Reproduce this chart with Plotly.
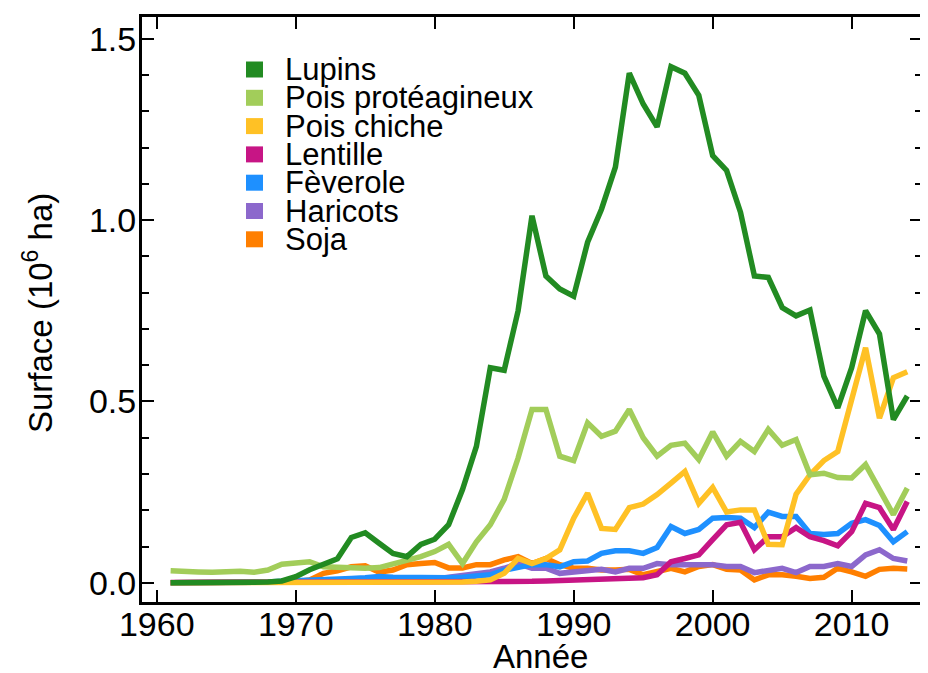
import plotly.graph_objects as go

# data --------------------------------------------------------------------------------------------------------------
years = list(range(1961, 2015))

lupins = [
    0.0, 0.0, 0.0, 0.0, 0.0, 0.0, 0.0, 0.002, 0.005, 0.017,
    0.036, 0.05, 0.066, 0.125, 0.138, 0.109, 0.081, 0.072, 0.106, 0.12,
    0.16, 0.257, 0.376, 0.593, 0.586, 0.75, 1.012, 0.846, 0.81, 0.79,
    0.939, 1.03, 1.146, 1.405, 1.32, 1.257, 1.423, 1.405, 1.344, 1.178,
    1.137, 1.022, 0.846, 0.842, 0.759, 0.736, 0.752, 0.57, 0.482, 0.593,
    0.75, 0.686, 0.45, 0.515,
]
pois_prot = [
    0.033, 0.033, 0.030, 0.029, 0.030, 0.032, 0.029, 0.035, 0.051, 0.055,
    0.058, 0.044, 0.042, 0.040, 0.040, 0.042, 0.051, 0.060, 0.072, 0.086,
    0.106, 0.053, 0.113, 0.16, 0.23, 0.344, 0.478, 0.478, 0.349, 0.337,
    0.441, 0.404, 0.418, 0.478, 0.40, 0.349, 0.379, 0.385, 0.34, 0.416,
    0.349, 0.39, 0.362, 0.423, 0.379, 0.395, 0.298, 0.302, 0.29, 0.289,
    0.326, 0.257, 0.188, 0.261,
]
pois_chiche = [
    0.0, 0.0, 0.0, 0.0, 0.0, 0.0, 0.0, 0.0, 0.0, 0.0,
    0.0, 0.0, 0.0, 0.0, 0.0, 0.0, 0.0, 0.0, 0.0, 0.0,
    0.0, 0.002, 0.004, 0.008, 0.026, 0.067, 0.053, 0.067, 0.091, 0.178,
    0.247, 0.15, 0.147, 0.207, 0.217, 0.243, 0.275, 0.307, 0.219, 0.263,
    0.195, 0.201, 0.201, 0.106, 0.105, 0.244, 0.298, 0.337, 0.362, 0.5,
    0.648, 0.454, 0.565, 0.582,
]
lentille = [
    0.001, 0.001, 0.001, 0.001, 0.001, 0.001, 0.001, 0.001, 0.001, 0.001,
    0.001, 0.001, 0.001, 0.001, 0.001, 0.001, 0.001, 0.001, 0.002, 0.002,
    0.002, 0.002, 0.002, 0.003, 0.003, 0.004, 0.004, 0.005, 0.006, 0.008,
    0.008, 0.009, 0.01, 0.01, 0.014, 0.022, 0.058, 0.067, 0.077, 0.119,
    0.16, 0.167, 0.091, 0.127, 0.127, 0.152, 0.127, 0.116, 0.102, 0.141,
    0.219, 0.207, 0.147, 0.224,
]
feverole = [
    0.0, 0.0, 0.0, 0.0, 0.0, 0.0, 0.0, 0.002, 0.004, 0.005,
    0.006, 0.008, 0.01, 0.012, 0.014, 0.017, 0.015, 0.014, 0.013, 0.013,
    0.014, 0.015, 0.018, 0.022, 0.035, 0.044, 0.05, 0.05, 0.044, 0.058,
    0.06, 0.081, 0.088, 0.088, 0.081, 0.097, 0.155, 0.136, 0.147, 0.178,
    0.18, 0.178, 0.152, 0.195, 0.183, 0.183, 0.136, 0.133, 0.136, 0.164,
    0.174, 0.158, 0.113, 0.141,
]
haricots = [
    0.0, 0.0, 0.0, 0.0, 0.0, 0.0, 0.0, 0.001, 0.002, 0.003,
    0.004, 0.005, 0.005, 0.006, 0.006, 0.007, 0.008, 0.008, 0.009, 0.01,
    0.015, 0.02, 0.022, 0.03, 0.04, 0.053, 0.04, 0.04, 0.026, 0.03,
    0.035, 0.037, 0.03, 0.04, 0.04, 0.053, 0.05, 0.05, 0.05, 0.05,
    0.045, 0.045, 0.028, 0.033, 0.04, 0.028, 0.045, 0.045, 0.053, 0.045,
    0.077, 0.091, 0.067, 0.06,
]
soja = [
    0.0, 0.0, 0.0, 0.0, 0.0, 0.0, 0.0, 0.001, 0.002, 0.003,
    0.008, 0.026, 0.033, 0.044, 0.047, 0.029, 0.035, 0.05, 0.053, 0.056,
    0.041, 0.041, 0.05, 0.05, 0.063, 0.072, 0.053, 0.067, 0.05, 0.04,
    0.04, 0.035, 0.035, 0.037, 0.022, 0.03, 0.04, 0.03, 0.045, 0.05,
    0.037, 0.035, 0.008, 0.022, 0.022, 0.018, 0.012, 0.015, 0.04, 0.03,
    0.018, 0.037, 0.04, 0.038,
]

names = ["Lupins", "Pois protéagineux", "Pois chiche", "Lentille", "Fèverole", "Haricots", "Soja"]
series = [lupins, pois_prot, pois_chiche, lentille, feverole, haricots, soja]
colors = ["#228b22", "#a2cd5a", "#ffc125", "#c71585", "#1e90ff", "#8c68cc", "#ff7f00"]

x_tickvals = [1960, 1970, 1980, 1990, 2000, 2010]
y_tickvals = [0.0, 0.5, 1.0, 1.5]

FONT = "Liberation Sans, Arial, Helvetica, sans-serif"
AXCOL = "black"

# layout constants (pixels) -----------------------------------------------------------------------------------------
BODY = 8                              # default <body> margin of the html page
W, H = 928 - BODY, 673 - BODY
MRG = dict(l=142 - BODY, r=6, t=17 - BODY, b=71)
PW, PH = W - MRG["l"] - MRG["r"], H - MRG["t"] - MRG["b"]
P_LEFT, P_BOT = 142, 602              # plot box in page pixels


def px2x(px):  # page pixel -> paper x
    return (px - P_LEFT) / PW


def py2y(py):  # page pixel -> paper y
    return (P_BOT - py) / PH


LEG_SW_X = (246, 263)        # swatch left/right
LEG_TXT_X = 283              # text left
LEG_Y0, LEG_DY = 69.5, 28.3  # first row centre, row pitch
SW = 16

fig = go.Figure()

# plotting ----------------------------------------------------------------------------------------------------------
for nm, ys, col in reversed(list(zip(names, series, colors))):  # lupins last -> on top
    fig.add_trace(go.Scatter(
        x=years, y=ys, name=nm,
        mode="lines",
        line=dict(color=col, width=5.5),
        showlegend=False,
    ))

# hand-made legend: square swatches + text, tight row pitch like the original
for i, (nm, col) in enumerate(zip(names, colors)):
    yc = LEG_Y0 + i * LEG_DY
    fig.add_shape(
        type="rect", xref="paper", yref="paper",
        x0=px2x(LEG_SW_X[0]), x1=px2x(LEG_SW_X[1]),
        y0=py2y(yc + SW / 2), y1=py2y(yc - SW / 2),
        fillcolor=col, line=dict(width=0),
    )
    fig.add_annotation(
        text=nm, showarrow=False,
        xref="paper", yref="paper",
        x=px2x(LEG_TXT_X), y=py2y(yc),
        xanchor="left", yanchor="middle",
        font=dict(size=31),
    )

# axis titles as annotations (exact placement)
fig.add_annotation(
    text="Année", showarrow=False,
    xref="paper", yref="paper", x=px2x(540), y=py2y(656),
    xanchor="center", yanchor="middle",
    font=dict(size=33),
)
fig.add_annotation(
    text="Surface (10<sup>6</sup> ha)", showarrow=False, textangle=-90,
    xref="paper", yref="paper", x=px2x(38), y=py2y(313),
    xanchor="center", yanchor="middle",
    font=dict(size=33),
)

# layouting ---------------------------------------------------------------------------------------------------------
fig.update_layout(
    width=W, height=H,
    paper_bgcolor="white", plot_bgcolor="white",
    font=dict(family=FONT, size=30, color="black"),
    margin=MRG,
    showlegend=False,
)

fig.update_xaxes(
    range=[1958.94, 2015.06],
    automargin=False,
    showline=True, linecolor=AXCOL, linewidth=3, mirror="ticks",
    showgrid=False, zeroline=False,
    ticks="inside", ticklen=12, tickwidth=2, tickcolor=AXCOL,
    tickvals=x_tickvals,
    tickfont=dict(size=34),
    ticklabelstandoff=-10,
)
fig.update_yaxes(
    range=[-0.053, 1.56],
    automargin=False,
    showline=True, linecolor=AXCOL, linewidth=3, mirror="ticks",
    showgrid=False, zeroline=False,
    ticks="inside", ticklen=12, tickwidth=2, tickcolor=AXCOL,
    tickvals=y_tickvals, tickformat=".1f",
    tickfont=dict(size=34),
    ticklabelstandoff=-4,
    minor=dict(dtick=0.1, tick0=0, ticks="inside", ticklen=7, tickwidth=2, tickcolor=AXCOL),
)

fig.write_html("out.html")
